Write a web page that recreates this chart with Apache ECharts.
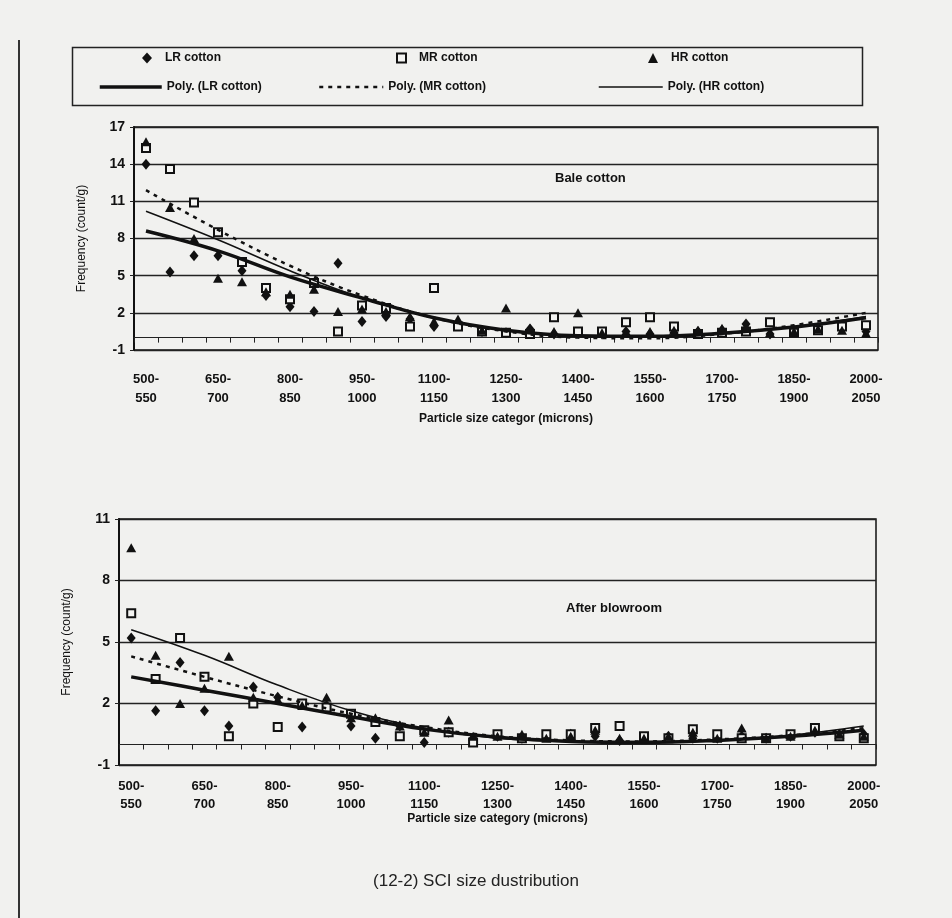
<!DOCTYPE html>
<html>
<head>
<meta charset="utf-8">
<title>SCI size distribution</title>
<script src="https://cdn.jsdelivr.net/npm/echarts@6/dist/echarts.min.js"></script>
<style>
html, body { margin: 0; padding: 0; background: #f1f1ef; }
#chart { width: 952px; height: 918px; }
</style>
</head>
<body>
<div id="chart"></div>
<script>
// particle size bins (microns)
const categories = ['500-550', '550-600', '600-650', '650-700', '700-750', '750-800', '800-850', '850-900',
  '900-950', '950-1000', '1000-1050', '1050-1100', '1100-1150', '1150-1200', '1200-1250', '1250-1300',
  '1300-1350', '1350-1400', '1400-1450', '1450-1500', '1500-1550', '1550-1600', '1600-1650', '1650-1700',
  '1700-1750', '1750-1800', '1800-1850', '1850-1900', '1900-1950', '1950-2000', '2000-2050'];

// Bale cotton (count/g)
const baleLR = [14.0, 5.3, 6.6, 6.6, 5.4, 3.4, 2.5, 2.1, 6.0, 1.3, 1.7, 1.5, 0.9, 1.2, 0.5, 0.4,
  0.7, 0.3, 0.4, 0.3, 0.5, 0.3, 0.4, 0.5, 0.6, 1.1, 0.3, 0.6, 0.8, 0.9, 0.5];
const baleMR = [15.3, 13.6, 10.9, 8.5, 6.1, 4.0, 3.1, 4.4, 0.5, 2.6, 2.4, 0.9, 4.0, 0.9, 0.5, 0.4,
  0.3, 1.65, 0.5, 0.5, 1.25, 1.65, 0.9, 0.3, 0.4, 0.5, 1.25, 0.4, 0.6, 0.9, 1.0];
const baleHR = [15.8, 10.5, 8.0, 4.8, 4.5, 3.7, 3.5, 3.9, 2.1, 2.3, 2.1, 1.7, 1.3, 1.5, 0.6, 2.4,
  0.75, 0.5, 2.0, 0.4, 0.5, 0.5, 0.6, 0.6, 0.75, 0.9, 0.4, 0.5, 0.7, 0.6, 0.35];

// After blowroom (count/g)
const blowLR = [5.2, 1.65, 4.0, 1.65, 0.9, 2.8, 2.3, 0.85, 1.9, 0.9, 0.3, 0.9, 0.1, 0.6, 0.3, 0.4,
  0.3, 0.4, 0.5, 0.4, 0.2, 0.3, 0.4, 0.3, 0.3, 0.4, 0.3, 0.4, 0.6, 0.5, 0.5];
const blowMR = [6.4, 3.2, 5.2, 3.3, 0.4, 2.0, 0.85, 2.0, 1.8, 1.5, 1.1, 0.4, 0.7, 0.6, 0.1, 0.5,
  0.3, 0.5, 0.5, 0.8, 0.9, 0.4, 0.3, 0.75, 0.5, 0.3, 0.3, 0.5, 0.8, 0.4, 0.3];
const blowHR = [9.6, 4.35, 2.0, 2.75, 4.3, 2.3, 2.2, 1.9, 2.3, 1.3, 1.3, 0.9, 0.6, 1.2, 0.4, 0.4,
  0.5, 0.3, 0.4, 0.7, 0.3, 0.3, 0.4, 0.6, 0.3, 0.8, 0.3, 0.4, 0.7, 0.5, 0.4];

// polynomial trend lines, read at every third bin
const trendAt = ['500-550', '650-700', '800-850', '950-1000', '1100-1150', '1250-1300',
  '1400-1450', '1550-1600', '1700-1750', '1850-1900', '2000-2050'];
const baleTrendLR = [8.6, 7.0, 4.9, 3.2, 1.6, 0.6, 0.15, 0.1, 0.35, 0.85, 1.6];
const baleTrendMR = [11.9, 8.7, 5.8, 3.4, 1.6, 0.5, 0.0, -0.05, 0.3, 1.0, 2.0];
const baleTrendHR = [10.2, 7.9, 5.4, 3.2, 1.6, 0.55, 0.1, 0.05, 0.3, 0.85, 1.7];
const blowTrendLR = [3.3, 2.65, 2.0, 1.35, 0.75, 0.35, 0.15, 0.1, 0.2, 0.4, 0.7];
const blowTrendMR = [4.3, 3.3, 2.35, 1.5, 0.85, 0.4, 0.2, 0.15, 0.25, 0.45, 0.8];
const blowTrendHR = [5.6, 4.35, 2.9, 1.65, 0.8, 0.3, 0.15, 0.15, 0.2, 0.45, 0.9];

const FONT = 'Liberation Sans, Arial, sans-serif';
const INK = '#111';

let chart = echarts.init(document.getElementById('chart'));

function xAxisFor(gridIndex, name, margin, lineHeight, nameGap) {
  return {
    gridIndex: gridIndex,
    type: 'category',
    data: categories,
    axisLine: { onZero: true, lineStyle: { color: '#222', width: 1.2 } },
    axisTick: { show: true, interval: 0, length: 5, lineStyle: { color: '#222' } },
    axisLabel: {
      interval: 2, margin: margin, color: INK, fontFamily: FONT, fontSize: 13,
      fontWeight: 'bold', lineHeight: lineHeight,
      formatter: v => v.replace('-', '-\n')
    },
    splitLine: { show: false },
    name: name,
    nameLocation: 'middle',
    nameGap: nameGap,
    nameMoveOverlap: false,
    nameTextStyle: { color: INK, fontFamily: FONT, fontSize: 12, fontWeight: 'bold' }
  };
}

function yAxisFor(gridIndex, max) {
  return {
    gridIndex: gridIndex,
    type: 'value',
    min: -1,
    max: max,
    interval: 3,
    axisLine: { show: true, lineStyle: { color: INK, width: 2 } },
    axisTick: { show: true, length: 4, lineStyle: { color: '#222' } },
    axisLabel: { margin: 9, color: INK, fontFamily: FONT, fontSize: 14, fontWeight: 'bold' },
    splitLine: { show: true, lineStyle: { color: '#222', width: 1.3 } },
    name: 'Frequency (count/g)',
    nameLocation: 'middle',
    nameGap: 46,
    nameMoveOverlap: false,
    nameTextStyle: { color: INK, fontFamily: FONT, fontSize: 12 }
  };
}

function scatter(name, data, idx) {
  let s = {
    name: name, type: 'scatter', xAxisIndex: idx, yAxisIndex: idx, data: data,
    itemStyle: { color: INK, opacity: 1 }, z: 3
  };
  if (name === 'LR cotton') { s.symbol = 'diamond'; s.symbolSize = [9, 11]; }
  if (name === 'MR cotton') {
    s.symbol = 'rect'; s.symbolSize = 8;
    s.itemStyle = { color: '#f4f4f2', borderColor: INK, borderWidth: 2, opacity: 1 };
  }
  if (name === 'HR cotton') { s.symbol = 'triangle'; s.symbolSize = [10, 9]; }
  return s;
}

function trend(name, vals, idx, width, type) {
  return {
    name: name, type: 'line', xAxisIndex: idx, yAxisIndex: idx,
    data: trendAt.map((c, i) => [c, vals[i]]),
    smooth: 0.4, symbol: 'none', z: 4,
    lineStyle: { color: INK, width: width, type: type },
    itemStyle: { color: INK }
  };
}

const legendText = { color: INK, fontFamily: FONT, fontSize: 12, fontWeight: 'bold' };

function lineLegend(name, left, width, lineWidth, type) {
  return {
    data: [name], left: left, top: 81, padding: 0, itemWidth: width, itemHeight: 14,
    selectedMode: false, itemStyle: { opacity: 0 },
    lineStyle: { color: INK, width: lineWidth, type: type },
    textStyle: legendText
  };
}

chart.setOption({
  backgroundColor: '#f1f1ef',
  animation: false,
  title: {
    text: '(12-2) SCI size dustribution',
    left: 'center', top: 868,
    textStyle: { color: '#222', fontFamily: FONT, fontSize: 17, fontWeight: 'normal' }
  },
  legend: [
    { data: ['LR cotton'], left: 142, top: 52, padding: 0, itemWidth: 10, itemHeight: 11, selectedMode: false,
      textStyle: Object.assign({ padding: [0, 0, 0, 8] }, legendText) },
    { data: ['MR cotton'], left: 396, top: 52, padding: 0, itemWidth: 9, itemHeight: 9, selectedMode: false,
      textStyle: Object.assign({ padding: [0, 0, 0, 8] }, legendText) },
    { data: ['HR cotton'], left: 648, top: 52, padding: 0, itemWidth: 10, itemHeight: 10, selectedMode: false,
      textStyle: Object.assign({ padding: [0, 0, 0, 8] }, legendText) },
    lineLegend('Poly. (LR cotton)', 98, 62, 3.5, 'solid'),
    lineLegend('Poly. (MR cotton)', 318, 64, 2.5, [4, 5]),
    lineLegend('Poly. (HR cotton)', 598, 64, 1.5, 'solid')
  ],
  grid: [
    { left: 134, top: 127, width: 744, height: 223, show: true, borderColor: INK, borderWidth: 1.5,
      backgroundColor: 'transparent' },
    { left: 119, top: 519, width: 757, height: 246, show: true, borderColor: INK, borderWidth: 1.5,
      backgroundColor: 'transparent' }
  ],
  xAxis: [
    xAxisFor(0, 'Particle size categor (microns)', 20, 19, 63),
    xAxisFor(1, 'Particle size category (microns)', 12, 18, 48)
  ],
  yAxis: [yAxisFor(0, 17), yAxisFor(1, 11)],
  graphic: [
    { type: 'rect', left: 70, top: 45, shape: { width: 790, height: 58 },
      style: { fill: 'none', stroke: '#222', lineWidth: 1.5 } },
    { type: 'line', shape: { x1: 19, y1: 40, x2: 19, y2: 918 }, style: { stroke: '#333', lineWidth: 2 } },
    { type: 'text', left: 555, top: 172,
      style: { text: 'Bale cotton', fill: INK, font: 'bold 13px ' + FONT } },
    { type: 'text', left: 566, top: 602,
      style: { text: 'After blowroom', fill: INK, font: 'bold 13px ' + FONT } }
  ],
  series: [
    scatter('LR cotton', baleLR, 0),
    scatter('MR cotton', baleMR, 0),
    scatter('HR cotton', baleHR, 0),
    trend('Poly. (LR cotton)', baleTrendLR, 0, 3.5, 'solid'),
    trend('Poly. (MR cotton)', baleTrendMR, 0, 2.5, [4, 5]),
    trend('Poly. (HR cotton)', baleTrendHR, 0, 1.5, 'solid'),
    scatter('LR cotton', blowLR, 1),
    scatter('MR cotton', blowMR, 1),
    scatter('HR cotton', blowHR, 1),
    trend('Poly. (LR cotton)', blowTrendLR, 1, 3.5, 'solid'),
    trend('Poly. (MR cotton)', blowTrendMR, 1, 2.5, [4, 5]),
    trend('Poly. (HR cotton)', blowTrendHR, 1, 1.5, 'solid')
  ]
});
</script>
</body>
</html>
